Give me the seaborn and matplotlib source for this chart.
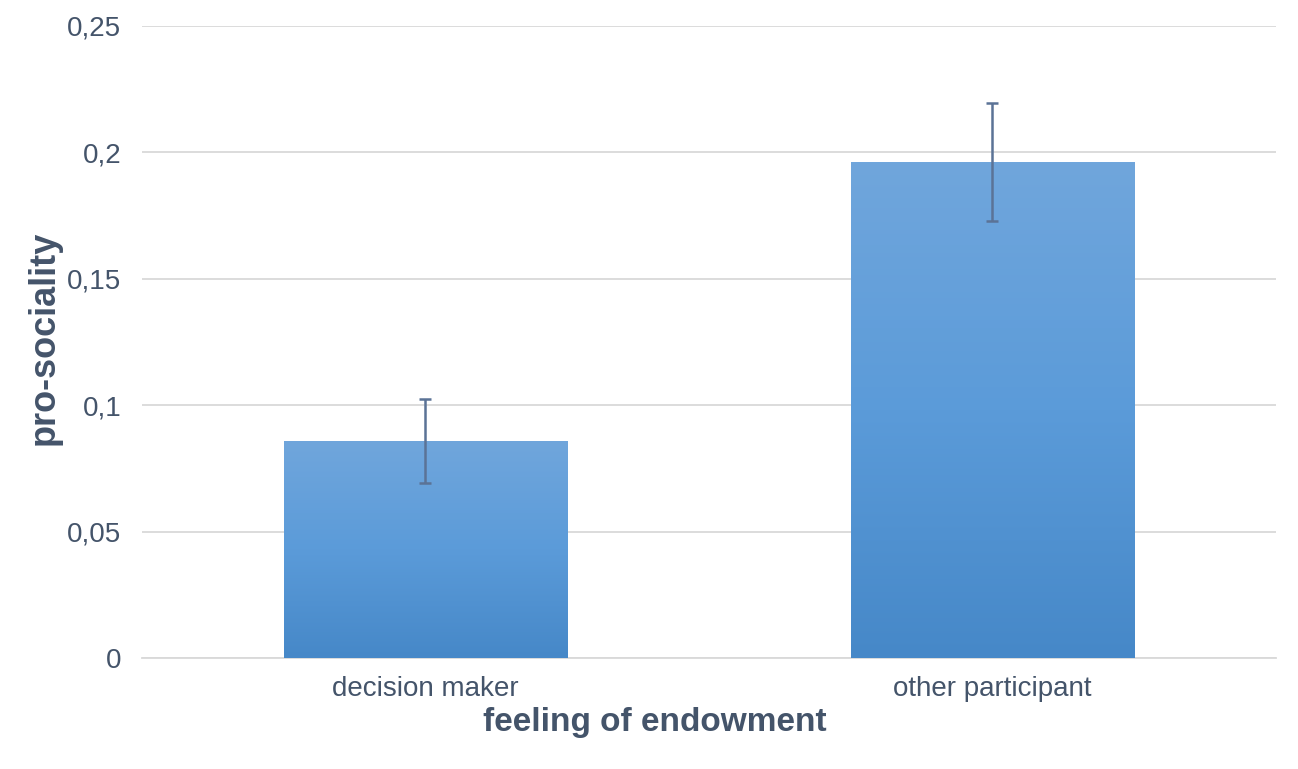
import matplotlib
matplotlib.use("Agg")
import matplotlib.pyplot as plt
import numpy as np
import pandas as pd
import seaborn as sns
from matplotlib.colors import LinearSegmentedColormap

categories = ["decision maker", "other participant"]
means = [0.0858, 0.1962]
errors = [0.0165, 0.0233]
y_ticks = [0, 0.05, 0.1, 0.15, 0.2, 0.25]
y_tick_labels = ["0", "0,05", "0,1", "0,15", "0,2", "0,25"]

TEXT = "#44546a"
GRID = "#d9d9d9"
ERR = "#5b7396"

sns.set_theme(style="white")
plt.rcParams["font.family"] = ["Liberation Sans", "DejaVu Sans"]

df = pd.DataFrame({"cat": categories, "val": means})

fig = plt.figure(figsize=(12.98, 7.69), dpi=100)
ax = fig.add_axes([0.1094, 0.1444, 0.8736, 0.8218])

sns.barplot(data=df, x="cat", y="val", width=0.5, color="#5b9bd5",
            ax=ax, zorder=2, errorbar=None)

# vertical gradient on each bar (lighter top, darker bottom)
cmap = LinearSegmentedColormap.from_list("g", ["#4688c8", "#5b9bd9", "#70a6dc"])
grad = np.linspace(0, 1, 256).reshape(-1, 1)
for p in ax.patches:
    x0, y0 = p.get_x(), p.get_y()
    w, h = p.get_width(), p.get_height()
    im = ax.imshow(grad, extent=[x0, x0 + w, y0, y0 + h], origin="lower",
                   cmap=cmap, aspect="auto", zorder=3)
    im.set_clip_path(p)
    p.set_alpha(0)

ax.errorbar(range(len(categories)), means, yerr=errors, fmt="none",
            ecolor=ERR, elinewidth=1.8, capsize=4, capthick=1.8, zorder=4)

ax.set_xlim(-0.5, 1.5)
ax.set_ylim(0, 0.25)
ax.set_yticks(y_ticks)
ax.set_yticklabels(y_tick_labels)
ax.yaxis.grid(True, color=GRID, linewidth=1.3, zorder=0)
ax.set_axisbelow(True)
for s in ["top", "right", "left"]:
    ax.spines[s].set_visible(False)
ax.spines["bottom"].set_color(GRID)
ax.spines["bottom"].set_linewidth(1.3)
ax.tick_params(axis="both", length=0, labelsize=20, colors=TEXT)
ax.tick_params(axis="y", pad=15)
ax.tick_params(axis="x", pad=13)

ax.set_xlabel("feeling of endowment", fontsize=24, fontweight="bold", color=TEXT)
ax.set_ylabel("pro-sociality", fontsize=26, fontweight="bold", color=TEXT)
ax.xaxis.set_label_coords(0.452, -0.078)
ax.yaxis.set_label_coords(-0.071, 0.506)

fig.savefig("out.png", dpi=100)
